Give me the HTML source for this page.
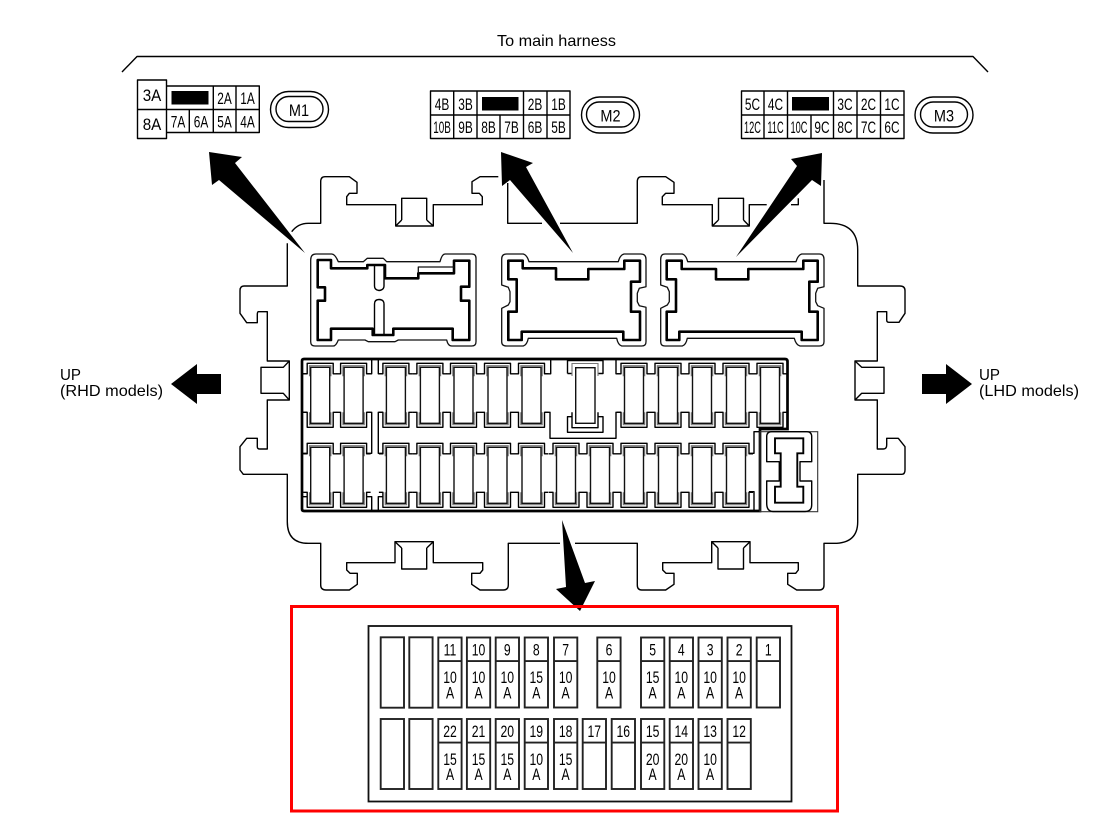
<!DOCTYPE html>
<html>
<head>
<meta charset="utf-8">
<style>
html,body{margin:0;padding:0;background:#fff}
svg{display:block}
text{font-family:"Liberation Sans",sans-serif;fill:#000;font-size:16px}
.c{text-anchor:middle;font-size:16.5px}
.l{fill:none;stroke:#000;stroke-width:1.4;stroke-linejoin:round}
.t{fill:none;stroke:#000;stroke-width:2.6;stroke-linejoin:round}
.s{fill:none;stroke:#111;stroke-width:1.3;stroke-linejoin:round}
.g{fill:none;stroke:#777;stroke-width:1.1}
.b{fill:#fff;stroke:#111;stroke-width:1.4}
.f{fill:#fff;stroke:#222;stroke-width:1.9}
</style>
</head>
<body>
<svg xmlns="http://www.w3.org/2000/svg" width="1106" height="817" viewBox="0 0 1106 817">
<defs>
<g id="fz">
<path class="l" d="M-17,6.5H-13V-4H13V6.5H17"/>
<path class="g" d="M-10.7,9V-1.6H10.7V9"/>
<path class="l" d="M-17,45H-13V60H13V45H17"/>
<path class="g" d="M-10.7,45V57.4H10.7V45"/>
<rect class="b" x="-9.5" y="0" width="19" height="56"/>
</g>
<g id="lg">
<rect class="f" x="0" y="0" width="23.3" height="70"/>
<path class="f" d="M0,23.6H23.3"/>
</g>
</defs>

<text x="497" y="46" textLength="119" lengthAdjust="spacingAndGlyphs">To main harness</text>
<path class="l" d="M122,72L137,56.5H973L988,72"/>

<!-- M1 -->
<g class="l">
<rect x="137.5" y="80" width="29" height="58.5"/>
<path d="M137.5,109.5H259.3M166.5,86H259.3V132.5H166.5M189.3,109.5V132.5M213.3,86V132.5M236,86V132.5"/>
<rect x="270.5" y="91.5" width="58" height="36" rx="18"/>
<rect x="276" y="96.5" width="47" height="25" rx="12.5"/>
</g>
<rect x="171.5" y="91" width="37" height="13.5" fill="#000"/>
<text class="c" transform="matrix(.92 0 0 1 152 101)">3A</text><text class="c" transform="matrix(.92 0 0 1 152 130)">8A</text>
<text class="c" transform="matrix(.72 0 0 1 224.5 104)">2A</text>
<text class="c" transform="matrix(.72 0 0 1 247.5 104)">1A</text>
<text class="c" transform="matrix(.72 0 0 1 178 127.5)">7A</text>
<text class="c" transform="matrix(.72 0 0 1 201 127.5)">6A</text>
<text class="c" transform="matrix(.72 0 0 1 224.5 127.5)">5A</text>
<text class="c" transform="matrix(.72 0 0 1 247.5 127.5)">4A</text>
<text class="c" transform="matrix(.88 0 0 1 299 116)">M1</text>

<!-- M2 -->
<g class="l">
<rect x="430.5" y="91" width="139.5" height="47.5"/>
<path d="M430.5,115H570M453.7,91V138.5M477,91V138.5M500,115V138.5M523.5,91V138.5M547,91V138.5"/>
<rect x="581.5" y="97" width="58" height="36" rx="18"/>
<rect x="586.5" y="102" width="47.5" height="25" rx="12.5"/>
</g>
<rect x="482" y="97" width="36.5" height="13.5" fill="#000"/>
<text class="c" transform="matrix(.72 0 0 1 442 110)">4B</text>
<text class="c" transform="matrix(.72 0 0 1 465.5 110)">3B</text>
<text class="c" transform="matrix(.72 0 0 1 535 110)">2B</text>
<text class="c" transform="matrix(.72 0 0 1 558.5 110)">1B</text>
<text class="c" transform="matrix(.6 0 0 1 442 133)">10B</text>
<text class="c" transform="matrix(.72 0 0 1 465.5 133)">9B</text>
<text class="c" transform="matrix(.72 0 0 1 488.5 133)">8B</text>
<text class="c" transform="matrix(.72 0 0 1 511.5 133)">7B</text>
<text class="c" transform="matrix(.72 0 0 1 535 133)">6B</text>
<text class="c" transform="matrix(.72 0 0 1 558.5 133)">5B</text>
<text class="c" transform="matrix(.88 0 0 1 610.5 121.5)">M2</text>

<!-- M3 -->
<g class="l">
<rect x="741.5" y="91" width="162.5" height="47.5"/>
<path d="M741.5,115H904M764,91V138.5M787.5,91V138.5M811,115V138.5M833.5,91V138.5M857,91V138.5M880.5,91V138.5"/>
<rect x="915" y="97" width="58" height="36" rx="18"/>
<rect x="920.5" y="102" width="47" height="25" rx="12.5"/>
</g>
<rect x="792" y="97" width="37" height="13.5" fill="#000"/>
<text class="c" transform="matrix(.72 0 0 1 752.5 110)">5C</text>
<text class="c" transform="matrix(.72 0 0 1 775.5 110)">4C</text>
<text class="c" transform="matrix(.72 0 0 1 845 110)">3C</text>
<text class="c" transform="matrix(.72 0 0 1 868.5 110)">2C</text>
<text class="c" transform="matrix(.72 0 0 1 892 110)">1C</text>
<text class="c" transform="matrix(.56 0 0 1 752.5 133)">12C</text>
<text class="c" transform="matrix(.56 0 0 1 775.5 133)">11C</text>
<text class="c" transform="matrix(.56 0 0 1 799 133)">10C</text>
<text class="c" transform="matrix(.72 0 0 1 822 133)">9C</text>
<text class="c" transform="matrix(.72 0 0 1 845 133)">8C</text>
<text class="c" transform="matrix(.72 0 0 1 868.5 133)">7C</text>
<text class="c" transform="matrix(.72 0 0 1 892 133)">6C</text>
<text class="c" transform="matrix(.88 0 0 1 944 121.5)">M3</text>

<!-- Housing outline -->
<g class="l">
<path d="M291.7,231.7Q298,223.3 308.3,223.3H320.7V181.7Q320.7,176.7 325,176.7H349.3L357,182.3V193.3H349.3L346.7,196.7V204.7H395.7V226H433.3V204.7H482.3V196.7L479.3,193.3H472V181.7L480,176.7H498.3"/>
<path d="M401.7,220V198.3H426.7V220M395.7,226L401.7,220M433.3,226L426.7,220"/>
<path d="M507.7,183V223.3H542M560,223.3H637.3V181.7Q637.3,176.7 641.7,176.7H665.7L674,182.3V193.3H665.7L662.3,196.7V204.7H712.3V226H749.3V204.7H766.7M791,204.7H798.3V198.3"/>
<path d="M718.5,220V198.3H743.5V220M712.3,226L718.5,220M749.3,226L743.5,220"/>
<path d="M824,180V223.3H830Q857.7,223.3 857.7,250V286H900Q905,286 905,290.7V313.3L899,322.3H889Q886.7,322.3 886.7,320V311.7H877.3V361H855V400H877.3V449H883.3Q886.7,449 886.7,445V438.3H898.3L905,446.7V470Q905,474.3 901.7,474.3H857.7V521.7Q857.7,543.3 834,543.3H824V585Q824,590 819.3,590H796.7L787.7,584.3V573.3H795.7L798.3,570V562.7H750V541.7H711.7V562.7H662.7V570L666,573.3H674V584.3L665.7,590H641.7Q637.3,590 637.3,585V543.3H575"/>
<path d="M560,543.3H508.3V585Q508.3,590 503.3,590H480L471.7,584.3V573.3H480L482.7,570V562.7H433.3V541.7H395V562.7H346.7V570L350,573.3H357.3V584.3L349.3,590H326Q320.7,590 320.7,585V543.3H308.3Q287.3,543.3 287.3,521.7V474.3H243.3L240,470V446.7L246.7,438.3H257.3V446.7Q257.3,449 260,449H267.3V400H289.3V361H267.3V311.7H258.3Q257.3,311.7 257.3,315V322.7H246.7L240,313.3V290.7Q240,286 244,286H287.3V243.3"/>
<path d="M289.3,361L283.3,367.3H261V393.3H283.3L289.3,400"/>
<path d="M855,361L861.7,367.3H884V393.3H861.7L855,400"/>
<path d="M401.7,548V569H426.7V548M395,541.7L401.7,548M433.3,541.7L426.7,548"/>
<path d="M718,548V569H743.5V548M711.7,541.7L718,548M750,541.7L743.5,548"/>
</g>

<!-- Connector 1 -->
<path class="s" d="M310.7,260Q310.7,254 316,254H331.7Q335,254 338.3,261.7H363.3L367.3,258.3H383.3L386.7,261.7H440Q442,254 445,254H471.7Q476,254 476,258.3V341.7Q476,346 471.7,346H451.7Q448,346 446.7,340H398.3L395,341.7H368.3L365,340H338.3Q336,346 333.3,346H315Q310.7,346 310.7,341.7Z"/>
<path class="t" d="M317.7,260H331V268.3H367.3V265H385V278.3H418.3V273.3H454V260.7H469.3V286.7H461V300.7H469.3V340H452.7V328.7H393.3V335H372.7V328.7H331V340H317.7V300.7H325V287.3H317.7Z"/>
<path class="s" d="M418.3,273.3V267H454"/>
<path class="l" d="M374.5,265V286Q374.5,290 379,290.5Q384,290 384,286V265M374.5,335V304Q374.5,299.5 379,299.5Q384,299.5 384,304V335"/>

<!-- Connector 2 -->
<path class="s" d="M501.7,259Q501.7,254 506.7,254H523.3Q527,255 529,261.7H618.3Q620,255 624,254H640.7Q646,254 646,259.3V286.7L639.3,288.3L637.3,293.3V301.7L639.3,305.7L646,307.3V341.7Q646,346 641.7,346H621.7Q618,345 616.7,338.3H528.3Q527,345 523.3,346H506.7Q501.7,346 501.7,341.7V308.3L508.3,305L510,301.7V291.7L508.3,287.3L501.7,285Z"/>
<path class="t" d="M508.3,260.7H522.7V268.3H556V279.3H588.3V269H624.3V260.7H640V281.7H631V311.7H640V340H623.3V331.7H521.7V340H508.3V311.7H516.7V279.3H508.3Z"/>

<!-- Connector 3 -->
<path class="s" d="M660.7,259.3Q660.7,254 665,254H682.3Q686,255 687.7,261.7H796Q798,255 801.7,254H819.3Q824,254 824,259.3V286.7L817.7,288.3L815.7,293.3V301.7L817.7,305.7L824,308.3V341.7Q824,346 819.3,346H800Q796,345 794.3,338.3H687.3Q686,345 682.3,346H665Q660.7,346 660.7,341.7V308.3L667.3,305L669.3,301.7V291.7L667.3,287.3L660.7,285Z"/>
<path class="t" d="M666.7,260.7H681.7V269H716V279.3H748.3V269H803.3V260.7H817.7V281.7H809.3V311.7H817.7V340H801.7V331.7H679.3V340H666.7V311.7H676V279.3H666.7Z"/>

<!-- Fuse panel -->
<g class="l">
<path d="M303,373.8H307M303,412.3H307M303,453.3H307M303,496.7H307"/>
<path d="M371.7,360V373.8H367M378.3,360V373.8H383"/>
<path d="M367,412.3H371.7V453.3H367M383,412.3H378.3V453.3H383"/>
<path d="M367,496.7H371.7V510M383,496.7H378.3V510"/>
<path d="M545,373.8H550.7V360M621,373.8H616V360"/>
<path d="M545,412.3H550V438.3H616V412.3H621"/>
<path d="M749,453.3H754V431.7H759M749,491.7H754V510"/>
</g>
<use href="#fz" x="320.2" y="367.3"/><use href="#fz" x="353.6" y="367.3"/>
<use href="#fz" x="395.9" y="367.3"/><use href="#fz" x="429.9" y="367.3"/>
<use href="#fz" x="463.5" y="367.3"/><use href="#fz" x="497.5" y="367.3"/>
<use href="#fz" x="531.5" y="367.3"/>
<use href="#fz" x="634" y="367.3"/><use href="#fz" x="668" y="367.3"/>
<use href="#fz" x="702" y="367.3"/><use href="#fz" x="736" y="367.3"/>
<use href="#fz" x="770" y="367.3"/>
<use href="#fz" x="320.2" y="447.3"/><use href="#fz" x="353.6" y="447.3"/>
<use href="#fz" x="395.9" y="447.3"/><use href="#fz" x="429.9" y="447.3"/>
<use href="#fz" x="463.5" y="447.3"/><use href="#fz" x="497.5" y="447.3"/>
<use href="#fz" x="531.5" y="447.3"/><use href="#fz" x="566" y="447.3"/>
<use href="#fz" x="600" y="447.3"/><use href="#fz" x="634" y="447.3"/>
<use href="#fz" x="668" y="447.3"/><use href="#fz" x="702" y="447.3"/>
<use href="#fz" x="736" y="447.3"/>
<!-- Centre fuse -->
<g class="l">
<path d="M567.5,373.5V360.5H603V373.5H598M567.5,373.5H572"/>
<path d="M572,416.7H567.5V432.3H603V416.7H598"/>
<path d="M572,412.3V427.7H598V412.3"/>
</g>
<path class="g" d="M572,376V363.5H598V376"/>
<rect class="b" x="575.7" y="367.7" width="19.3" height="55.6"/>
<path d="M304,359H785Q787.5,359 787.5,361.5V429H760V511H304Q302,511 302,509V361Q302,359 304,359Z" fill="none" stroke="#000" stroke-width="2.7"/>

<!-- Relay -->
<rect x="760" y="431.7" width="57.7" height="80" fill="none" stroke="#333" stroke-width="1.1"/>
<path class="l" d="M766.7,461.7H779.3V481H766.7V503.3Q766.7,511.5 773,511.5H805Q811.7,511.5 811.7,505V481H800V461.7H811.7V436.7Q811.7,431.7 806.7,431.7H771.7Q766.7,431.7 766.7,436.7Z"/>
<path d="M775,438.3H803.3V453.3H797.3V486.7H803.3V502.7H775V486.7H780.7V453.3H775Z" fill="none" stroke="#000" stroke-width="1.9"/>

<!-- Arrows -->
<g fill="#000">
<polygon points="209,152 242,157 235,163 305,253 219,180 212,185"/>
<polygon points="501,152 533,163 526,167 573,253 510,180 502,186"/>
<polygon points="822,153 791,159 797,166 736,257 812,180 821,186"/>
<polygon points="562,520 585,583 595,581 580,611 556,589 566,587"/>
<polygon points="171,384 197,364 197,374 221,374 221,394 197,394 197,404"/>
<polygon points="972,384 946,364 946,374 922,374 922,394 946,394 946,404"/>
</g>
<text x="60" y="380" textLength="21" lengthAdjust="spacingAndGlyphs">UP</text>
<text x="60" y="396" textLength="103" lengthAdjust="spacingAndGlyphs">(RHD models)</text>
<text x="979" y="380" textLength="21" lengthAdjust="spacingAndGlyphs">UP</text>
<text x="979" y="396" textLength="100" lengthAdjust="spacingAndGlyphs">(LHD models)</text>

<!-- Legend -->
<rect x="291.5" y="606.5" width="546" height="204.5" fill="none" stroke="#f00" stroke-width="3"/>
<rect x="368.5" y="626" width="423" height="175.5" fill="none" stroke="#111" stroke-width="1.8"/>
<rect class="f" x="380.7" y="637.3" width="23.3" height="70.4"/>
<rect class="f" x="409.3" y="637.3" width="23.3" height="70.4"/>
<rect class="f" x="380.7" y="719" width="23.3" height="70"/>
<rect class="f" x="409.3" y="719" width="23.3" height="70"/>
<use href="#lg" x="438.3" y="637.5"/><use href="#lg" x="466.9" y="637.5"/>
<use href="#lg" x="495.7" y="637.5"/><use href="#lg" x="524.7" y="637.5"/>
<use href="#lg" x="554" y="637.5"/><use href="#lg" x="597.3" y="637.5"/>
<use href="#lg" x="641" y="637.5"/><use href="#lg" x="669.7" y="637.5"/>
<use href="#lg" x="698.5" y="637.5"/><use href="#lg" x="727.5" y="637.5"/>
<use href="#lg" x="756.7" y="637.5"/>
<use href="#lg" x="438.3" y="719"/><use href="#lg" x="466.9" y="719"/>
<use href="#lg" x="495.7" y="719"/><use href="#lg" x="524.7" y="719"/>
<use href="#lg" x="554" y="719"/><use href="#lg" x="582.7" y="719"/>
<use href="#lg" x="611.7" y="719"/><use href="#lg" x="641" y="719"/>
<use href="#lg" x="669.7" y="719"/><use href="#lg" x="698.5" y="719"/>
<use href="#lg" x="727.5" y="719"/>

<text class="c" transform="matrix(.74 0 0 1 450 655.5)">11</text>
<text class="c" transform="matrix(.74 0 0 1 478.5 655.5)">10</text>
<text class="c" transform="matrix(.74 0 0 1 507.3 655.5)">9</text>
<text class="c" transform="matrix(.74 0 0 1 536.3 655.5)">8</text>
<text class="c" transform="matrix(.74 0 0 1 565.6 655.5)">7</text>
<text class="c" transform="matrix(.74 0 0 1 609 655.5)">6</text>
<text class="c" transform="matrix(.74 0 0 1 652.6 655.5)">5</text>
<text class="c" transform="matrix(.74 0 0 1 681.3 655.5)">4</text>
<text class="c" transform="matrix(.74 0 0 1 710.1 655.5)">3</text>
<text class="c" transform="matrix(.74 0 0 1 739.1 655.5)">2</text>
<text class="c" transform="matrix(.74 0 0 1 768.3 655.5)">1</text>

<text class="c" transform="matrix(.74 0 0 1 450 683)">10</text><text class="c" transform="matrix(.74 0 0 1 450 698.3)">A</text>
<text class="c" transform="matrix(.74 0 0 1 478.5 683)">10</text><text class="c" transform="matrix(.74 0 0 1 478.5 698.3)">A</text>
<text class="c" transform="matrix(.74 0 0 1 507.3 683)">10</text><text class="c" transform="matrix(.74 0 0 1 507.3 698.3)">A</text>
<text class="c" transform="matrix(.74 0 0 1 536.3 683)">15</text><text class="c" transform="matrix(.74 0 0 1 536.3 698.3)">A</text>
<text class="c" transform="matrix(.74 0 0 1 565.6 683)">10</text><text class="c" transform="matrix(.74 0 0 1 565.6 698.3)">A</text>
<text class="c" transform="matrix(.74 0 0 1 609 683)">10</text><text class="c" transform="matrix(.74 0 0 1 609 698.3)">A</text>
<text class="c" transform="matrix(.74 0 0 1 652.6 683)">15</text><text class="c" transform="matrix(.74 0 0 1 652.6 698.3)">A</text>
<text class="c" transform="matrix(.74 0 0 1 681.3 683)">10</text><text class="c" transform="matrix(.74 0 0 1 681.3 698.3)">A</text>
<text class="c" transform="matrix(.74 0 0 1 710.1 683)">10</text><text class="c" transform="matrix(.74 0 0 1 710.1 698.3)">A</text>
<text class="c" transform="matrix(.74 0 0 1 739.1 683)">10</text><text class="c" transform="matrix(.74 0 0 1 739.1 698.3)">A</text>

<text class="c" transform="matrix(.74 0 0 1 450 737)">22</text>
<text class="c" transform="matrix(.74 0 0 1 478.5 737)">21</text>
<text class="c" transform="matrix(.74 0 0 1 507.3 737)">20</text>
<text class="c" transform="matrix(.74 0 0 1 536.3 737)">19</text>
<text class="c" transform="matrix(.74 0 0 1 565.6 737)">18</text>
<text class="c" transform="matrix(.74 0 0 1 594.3 737)">17</text>
<text class="c" transform="matrix(.74 0 0 1 623.3 737)">16</text>
<text class="c" transform="matrix(.74 0 0 1 652.6 737)">15</text>
<text class="c" transform="matrix(.74 0 0 1 681.3 737)">14</text>
<text class="c" transform="matrix(.74 0 0 1 710.1 737)">13</text>
<text class="c" transform="matrix(.74 0 0 1 739.1 737)">12</text>

<text class="c" transform="matrix(.74 0 0 1 450 765)">15</text><text class="c" transform="matrix(.74 0 0 1 450 780)">A</text>
<text class="c" transform="matrix(.74 0 0 1 478.5 765)">15</text><text class="c" transform="matrix(.74 0 0 1 478.5 780)">A</text>
<text class="c" transform="matrix(.74 0 0 1 507.3 765)">15</text><text class="c" transform="matrix(.74 0 0 1 507.3 780)">A</text>
<text class="c" transform="matrix(.74 0 0 1 536.3 765)">10</text><text class="c" transform="matrix(.74 0 0 1 536.3 780)">A</text>
<text class="c" transform="matrix(.74 0 0 1 565.6 765)">15</text><text class="c" transform="matrix(.74 0 0 1 565.6 780)">A</text>
<text class="c" transform="matrix(.74 0 0 1 652.6 765)">20</text><text class="c" transform="matrix(.74 0 0 1 652.6 780)">A</text>
<text class="c" transform="matrix(.74 0 0 1 681.3 765)">20</text><text class="c" transform="matrix(.74 0 0 1 681.3 780)">A</text>
<text class="c" transform="matrix(.74 0 0 1 710.1 765)">10</text><text class="c" transform="matrix(.74 0 0 1 710.1 780)">A</text>
</svg>
</body>
</html>
